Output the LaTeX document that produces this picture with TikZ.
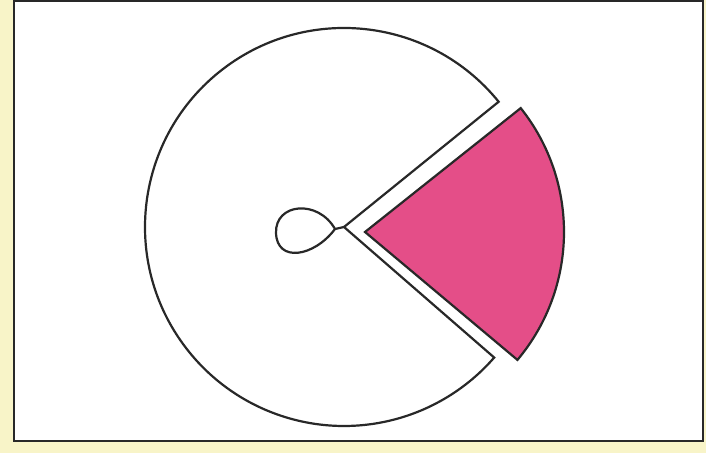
\documentclass[tikz,border=0pt]{standalone}
\usetikzlibrary{calc}
\definecolor{paper}{RGB}{248,244,200}
\definecolor{pinkfill}{RGB}{228,78,136}
\definecolor{ink}{RGB}{40,40,40}
\tikzset{
  outline/.style={draw=ink,line width=1.1pt},
  framebox/.style={draw=ink,line width=1.2pt,fill=white}
}
\begin{document}
\begin{tikzpicture}[x=0.5pt,y=0.5pt]
\useasboundingbox (0,0) rectangle (706,453);
\fill[paper] (0,0) rectangle (706,453);
\draw[framebox] (14,12) rectangle (703,452);
% circle with cut-out
\coordinate (C) at (344,226);
\draw[outline,line join=miter] ($(C)+(39:199)$) arc[start angle=39,end angle=319,radius=199] -- (C) -- cycle;
% displaced sector
\coordinate (S) at (365,221);
\draw[outline,fill=pinkfill,line join=miter] (S) -- ($(S)+(38.5:199)$) arc[start angle=38.5,end angle=-40,radius=199] -- cycle;
% loop
\coordinate (T) at (335,224);
\draw[outline] (C) -- (T) .. controls (318,254) and (275,250) .. (276,220) .. controls (277,190) and (314,196) .. (T);
\end{tikzpicture}
\end{document}
